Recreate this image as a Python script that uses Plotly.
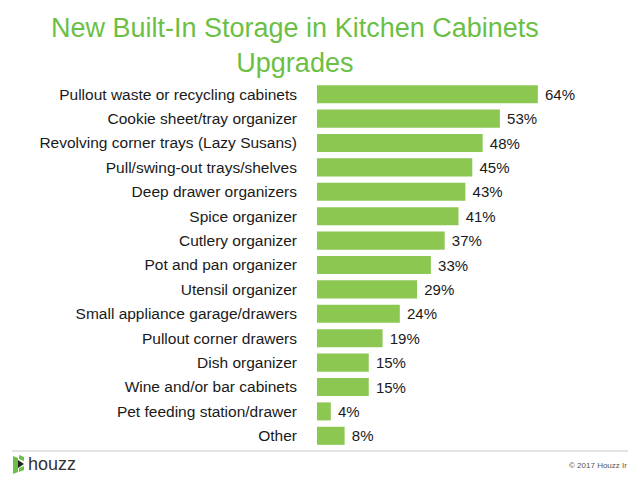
import plotly.graph_objects as go

categories = [
    "Pullout waste or recycling cabinets",
    "Cookie sheet/tray organizer",
    "Revolving corner trays (Lazy Susans)",
    "Pull/swing-out trays/shelves",
    "Deep drawer organizers",
    "Spice organizer",
    "Cutlery organizer",
    "Pot and pan organizer",
    "Utensil organizer",
    "Small appliance garage/drawers",
    "Pullout corner drawers",
    "Dish organizer",
    "Wine and/or bar cabinets",
    "Pet feeding station/drawer",
    "Other",
]
values = [64, 53, 48, 45, 43, 41, 37, 33, 29, 24, 19, 15, 15, 4, 8]
value_labels = [f" {v}%" for v in values]

W, H = 640, 478
PL, PR, PT, PB = 317, 640, 82, 448  # plot area in pixels


def px(x):
    return (x - PL) / (PR - PL)


def py(y):
    return (PB - y) / (PB - PT)


fig = go.Figure(go.Bar(
    x=values, y=categories, orientation="h",
    marker=dict(color="#8CC751", line=dict(width=0)),
    text=value_labels, textposition="outside", cliponaxis=False,
    textfont=dict(family="Liberation Sans, Arial", size=15, color="#1a1a1a"),
    hoverinfo="skip",
))


def poly(pts, color):
    path = "M " + " L ".join(f"{px(a)},{py(b)}" for a, b in pts) + " Z"
    return dict(type="path", xref="paper", yref="paper", path=path,
                fillcolor=color, line=dict(width=0), layer="above")


fig.update_layout(
    width=W, height=H,
    margin=dict(l=PL, r=W - PR, t=PT, b=H - PB, pad=0, autoexpand=False),
    paper_bgcolor="white", plot_bgcolor="white",
    bargap=0.26, showlegend=False,
    font=dict(family="Liberation Sans, Arial", size=15, color="#1a1a1a"),
    xaxis=dict(range=[0, 93.6], visible=False, fixedrange=True),
    yaxis=dict(autorange="reversed", showline=False, showgrid=False, ticks="",
               ticklabelstandoff=19, tickfont=dict(size=15.5, color="#1a1a1a"),
               fixedrange=True, automargin=False),
    annotations=[
        dict(text="New Built-In Storage in Kitchen Cabinets<br>Upgrades",
             x=px(295), y=py(11), xref="paper", yref="paper",
             xanchor="center", yanchor="top", showarrow=False,
             font=dict(family="Liberation Sans, Arial", size=27, color="#6CBF45")),
        dict(text="houzz", x=px(26), y=py(464), xref="paper", yref="paper",
             xanchor="left", yanchor="middle", showarrow=False,
             font=dict(family="Liberation Sans, Arial", size=18, color="#333333")),
        dict(text="© 2017 Houzz Ir", x=px(629), y=py(465), xref="paper", yref="paper",
             xanchor="right", yanchor="middle", showarrow=False,
             font=dict(family="Liberation Sans, Arial", size=8, color="#555555")),
    ],
    shapes=[
        dict(type="line", xref="paper", yref="paper", x0=px(12), x1=px(628),
             y0=py(451), y1=py(451), line=dict(color="#c8c8c8", width=1)),
        poly([(13, 456), (18, 458), (18, 472), (13, 474)], "#6CBF45"),
        poly([(19, 455), (24, 457), (24, 461), (19, 459)], "#6CBF45"),
        poly([(19, 468), (24, 466), (24, 470), (19, 472)], "#6CBF45"),
        poly([(18, 460), (24, 464), (18, 468)], "#222222"),
    ],
)

fig.write_html("out.html", config={"displayModeBar": False},
               post_script="document.body.style.margin='0';document.body.style.overflow='hidden';")
